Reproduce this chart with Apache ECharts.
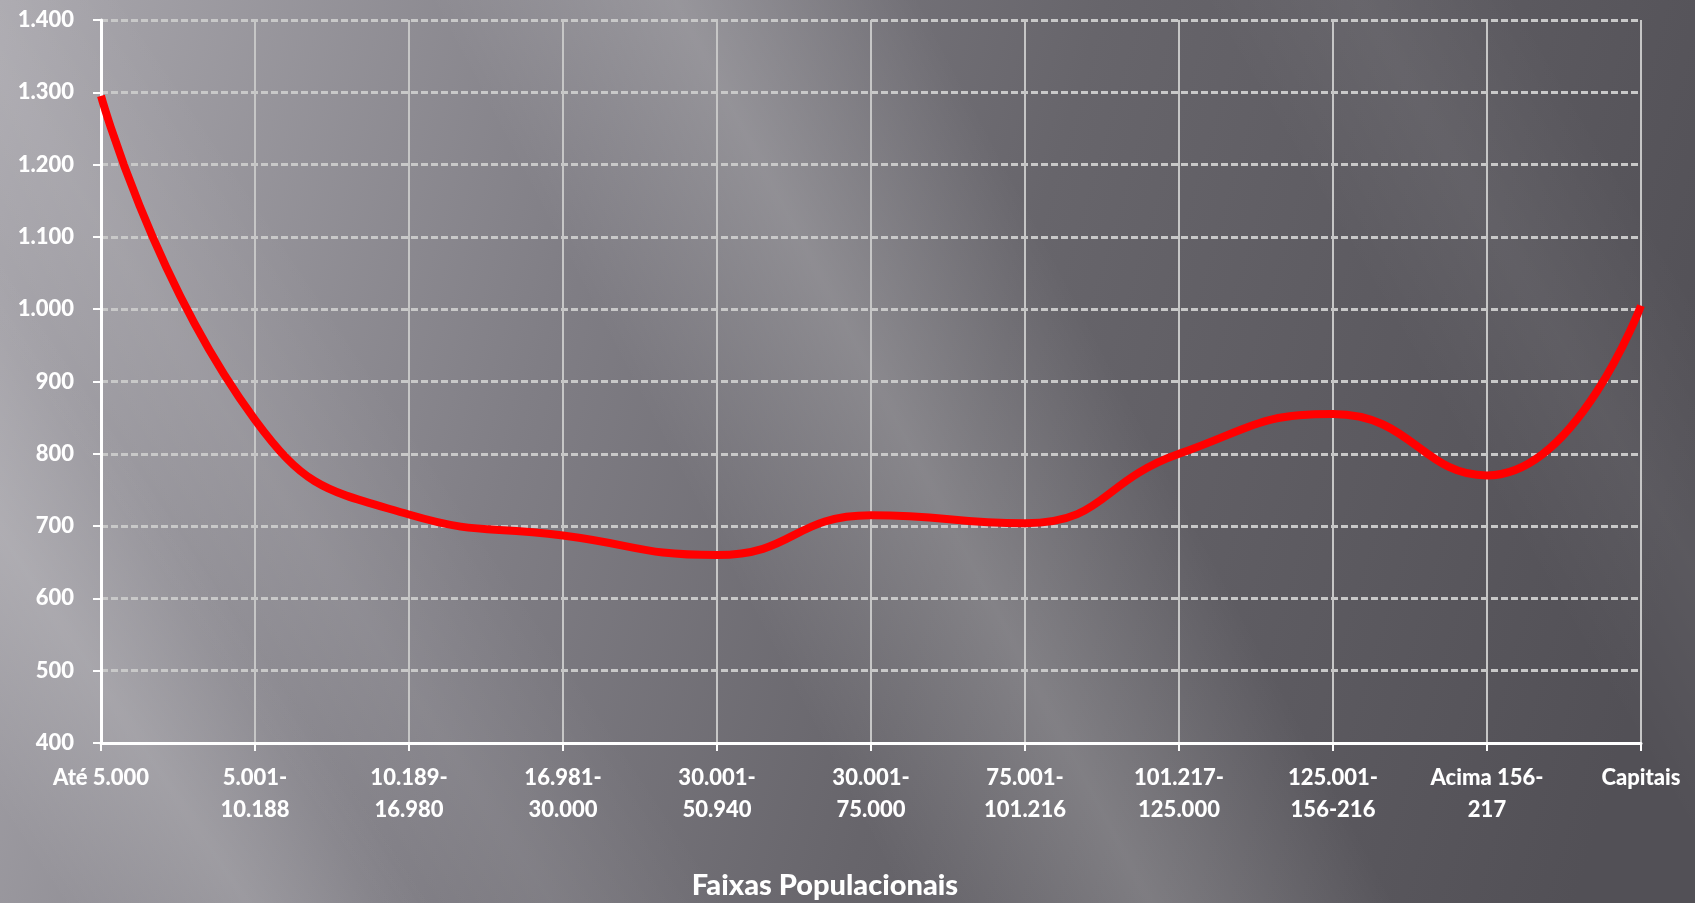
<!DOCTYPE html>
<html>
<head>
<meta charset="utf-8">
<title>Faixas Populacionais</title>
<script src="https://cdn.jsdelivr.net/npm/echarts@6/dist/echarts.min.js"></script>
<style>
  html, body { margin: 0; padding: 0; width: 1695px; height: 903px; overflow: hidden; }
  #chart { width: 1695px; height: 903px; }
</style>
</head>
<body>
<div id="chart"></div>
<script>
// Population brackets (x categories)
const categories = [
  'Até 5.000',
  '5.001-\n10.188',
  '10.189-\n16.980',
  '16.981-\n30.000',
  '30.001-\n50.940',
  '30.001-\n75.000',
  '75.001-\n101.216',
  '101.217-\n125.000',
  '125.001-\n156-216',
  'Acima 156-\n217',
  'Capitais'
];

// Value per population bracket
const values = [1295, 847, 716, 687, 660, 715, 704, 800, 855, 770, 1005];

// Y axis range
const yMin = 400;
const yMax = 1400;
const yStep = 100;

const axisTitle = 'Faixas Populacionais';

const W = 1695, H = 903;
const FONT = 'Lato, "Open Sans", sans-serif';

// Soft diagonal light streak: top-edge span x0..x1, running down-right with slope dy/dx.
// The fill fades across the streak (perpendicular to its direction).
function band(x0, x1, slope, alpha) {
  const dx = H / slope;
  const len = Math.sqrt(slope * slope + 1);
  const nx = slope / len, ny = -1 / len;
  const d = (x1 - x0) * nx;
  return {
    type: 'polygon',
    silent: true,
    z: -90,
    shape: { points: [[x0, 0], [x1, 0], [x1 + dx, H], [x0 + dx, H]] },
    style: {
      fill: {
        type: 'linear', global: true,
        x: x0, y: 0, x2: x0 + nx * d, y2: ny * d,
        colorStops: [
          { offset: 0, color: 'rgba(255,255,255,0)' },
          { offset: 0.5, color: 'rgba(255,255,255,' + alpha + ')' },
          { offset: 1, color: 'rgba(255,255,255,0)' }
        ]
      }
    }
  };
}

const chart = echarts.init(document.getElementById('chart'), null, { renderer: 'canvas' });

chart.setOption({
  animation: false,
  backgroundColor: '#6a686e',
  graphic: [
    {
      type: 'rect',
      silent: true,
      z: -100,
      shape: { x: 0, y: 0, width: W, height: H },
      style: {
        fill: {
          type: 'linear', x: 0, y: 0, x2: 1, y2: 0.55,
          colorStops: [
            { offset: 0, color: '#aaa8ae' },
            { offset: 0.35, color: '#807e85' },
            { offset: 0.6, color: '#67656b' },
            { offset: 1, color: '#525056' }
          ]
        }
      }
    },
    band(430, 920, 1.9, 0.2),
    band(-540, -170, 1.5, 0.16),
    band(-230, 130, 1.5, 0.07),
    band(1200, 1520, 1.7, 0.05),
    {
      type: 'text',
      silent: true,
      x: 825,
      y: 886,
      style: {
        text: axisTitle,
        fill: '#ffffff',
        font: '900 29px ' + FONT,
        textAlign: 'center',
        textVerticalAlign: 'middle'
      }
    }
  ],
  grid: { left: 101, right: 54, top: 20, bottom: 160, containLabel: false },
  xAxis: {
    type: 'category',
    data: categories,
    boundaryGap: false,
    axisLine: { show: true, lineStyle: { color: '#ffffff', width: 3 } },
    axisTick: { show: true, length: 8, lineStyle: { color: '#ffffff', width: 2 } },
    axisLabel: {
      color: '#ffffff',
      fontFamily: FONT,
      fontWeight: 900,
      fontSize: 22,
      lineHeight: 32,
      margin: 19,
      interval: 0
    },
    splitLine: { show: true, lineStyle: { color: '#c6c6c6', width: 2, type: 'solid' } }
  },
  yAxis: {
    type: 'value',
    min: yMin,
    max: yMax,
    interval: yStep,
    axisLine: { show: true, lineStyle: { color: '#ffffff', width: 3 } },
    axisTick: { show: true, length: 8, lineStyle: { color: '#ffffff', width: 2 } },
    axisLabel: {
      color: '#ffffff',
      fontFamily: FONT,
      fontWeight: 900,
      fontSize: 22,
      margin: 27,
      formatter: v => v.toLocaleString('pt-BR')
    },
    splitLine: { show: true, lineStyle: { color: '#c8c8c8', width: 3, type: [7, 3] } }
  },
  series: [{
    type: 'line',
    data: values,
    smooth: 0.5,
    symbol: 'none',
    lineStyle: { color: '#ff0000', width: 8 },
    z: 5
  }]
});
</script>
</body>
</html>
